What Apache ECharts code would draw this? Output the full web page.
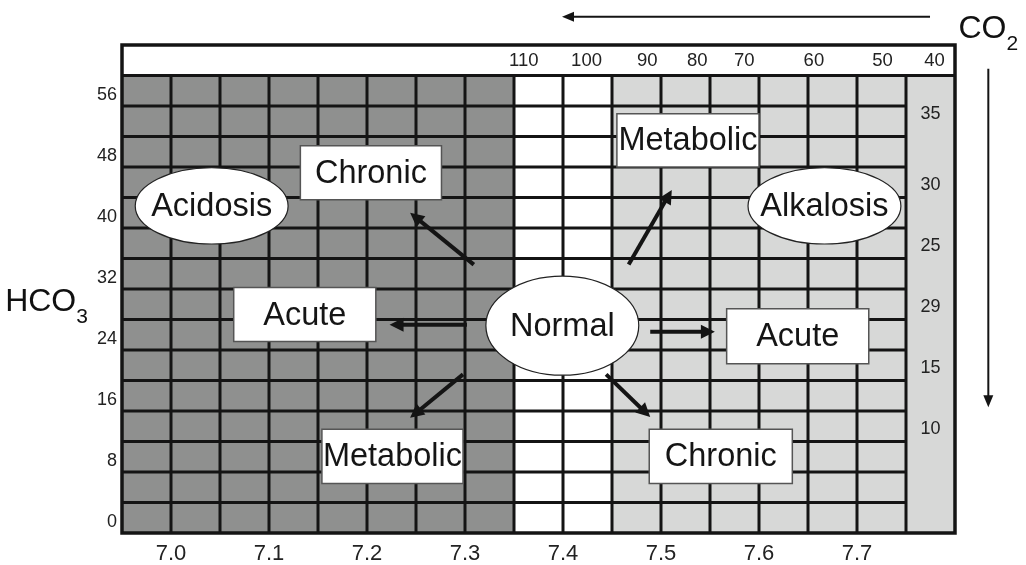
<!DOCTYPE html>
<html><head><meta charset="utf-8">
<script src="https://cdn.jsdelivr.net/npm/echarts@6/dist/echarts.min.js"></script>
<style>html,body{margin:0;padding:0;background:#fff}#c{width:1026px;height:565px}</style>
</head><body><div id="c"></div>
<script>
// ---- data (pH on x, HCO3 on y) ----
const phTicks = [7.0, 7.1, 7.2, 7.3, 7.4, 7.5, 7.6, 7.7];
const hco3Ticks = [0, 8, 16, 24, 32, 40, 48, 56];
const phGridLines = [7.0, 7.05, 7.1, 7.15, 7.2, 7.25, 7.3, 7.35, 7.4, 7.45, 7.5, 7.55, 7.6, 7.65, 7.7, 7.75];
const hco3GridLines = [2, 6, 10, 14, 18, 22, 26, 30, 34, 38, 42, 46, 50, 54];
const zoneNames = ['acid', 'normal', 'alkaline'];
const zoneFrom = [6.95, 7.35, 7.45];
const zoneTo = [7.35, 7.45, 7.80];
const co2TopLabels = ['110', '100', '90', '80', '70', '60', '50', '40'];
const co2TopPH = [7.360, 7.424, 7.486, 7.537, 7.585, 7.656, 7.726, 7.779];
const co2SideLabels = ['35', '30', '25', '29', '15', '10'];
const co2SideHCO3 = [52.9, 43.6, 35.6, 27.6, 19.6, 11.6];
const boxLabels = ['Chronic', 'Acute', 'Metabolic', 'Metabolic', 'Acute', 'Chronic'];
const boxPHFrom = [7.132, 7.064, 7.154, 7.455, 7.567, 7.488];
const boxPHTo = [7.276, 7.209, 7.298, 7.600, 7.712, 7.634];
const boxHCO3From = [41.7, 23.1, 4.5, 46.0, 20.2, 4.5];
const boxHCO3To = [48.8, 30.2, 11.6, 53.0, 27.4, 11.6];
const ellipseLabels = ['Acidosis', 'Normal', 'Alkalosis'];
const ellipsePH = [7.0415, 7.3993, 7.6668];
const ellipseHCO3 = [40.9, 25.2, 40.9];
const ellipsePHHalf = [0.078, 0.078, 0.078];
const ellipseHCO3Half = [5.0, 6.5, 5.0];
const arrowFrom = [[7.309, 33.2], [7.302, 25.3], [7.298, 18.8], [7.467, 33.2], [7.489, 24.4], [7.444, 18.8]];
const arrowTo = [[7.244, 40.0], [7.223, 25.3], [7.244, 13.1], [7.511, 43.0], [7.555, 24.4], [7.489, 13.2]];
const co2ArrowFrom = [[7.7745, 65.7], [7.834, 58.9]];
const co2ArrowTo = [[7.399, 65.7], [7.834, 14.5]];
const axisTitles = ['HCO|3', 'CO|2'];
const axisTitlePos = [[6.873, 28.6], [7.834, 64.4]];

// ---- styles ----
const FONT = "'Liberation Sans', Arial, Helvetica, sans-serif";
const LINE = '#141414';
const zoneFill = { acid: '#8f908f', normal: '#ffffff', alkaline: '#d7d8d7' };
const X0 = 6.95, X1 = 7.80, XIN = 7.75, Y0 = -2, Y1 = 62, YIN = 58;

function arrowShape(api, from, to, width, headLen, headHalf) {
  const p0 = api.coord(from), p1 = api.coord(to);
  const dx = p1[0] - p0[0], dy = p1[1] - p0[1];
  const len = Math.hypot(dx, dy);
  const ux = dx / len, uy = dy / len;
  const bx = p1[0] - ux * headLen, by = p1[1] - uy * headLen;
  return {
    type: 'group', children: [
      { type: 'line', shape: { x1: p0[0], y1: p0[1], x2: bx + ux * 2, y2: by + uy * 2 }, style: { stroke: LINE, lineWidth: width } },
      { type: 'polygon', shape: { points: [[p1[0], p1[1]], [bx - uy * headHalf, by + ux * headHalf], [bx + uy * headHalf, by - ux * headHalf]] }, style: { fill: LINE } }
    ]
  };
}

const chart = echarts.init(document.getElementById('c'), null, { renderer: 'canvas' });

const series = [
  { // zones
    type: 'custom', z: 1, data: zoneFrom.map((v, i) => [v, zoneTo[i]]),
    renderItem(params, api) {
      const i = params.dataIndex;
      const a = api.coord([zoneFrom[i], YIN]), b = api.coord([zoneTo[i], Y0]);
      return { type: 'rect', shape: { x: a[0], y: a[1], width: b[0] - a[0], height: b[1] - a[1] }, style: { fill: zoneFill[zoneNames[i]] } };
    }
  },
  { // vertical grid lines
    type: 'custom', z: 2, data: phGridLines.map(v => [v, 0]),
    renderItem(params, api) {
      const v = phGridLines[params.dataIndex];
      const a = api.coord([v, Y0]), b = api.coord([v, YIN]);
      return { type: 'line', shape: { x1: a[0], y1: a[1], x2: b[0], y2: b[1] }, style: { stroke: LINE, lineWidth: 3 } };
    }
  },
  { // horizontal grid lines
    type: 'custom', z: 2, data: hco3GridLines.map(v => [X0, v]),
    renderItem(params, api) {
      const v = hco3GridLines[params.dataIndex];
      const a = api.coord([X0, v]), b = api.coord([XIN, v]);
      return { type: 'line', shape: { x1: a[0], y1: a[1], x2: b[0], y2: b[1] }, style: { stroke: LINE, lineWidth: 3 } };
    }
  },
  { // frame
    type: 'custom', z: 3, data: [[X0, Y0]],
    renderItem(params, api) {
      const a = api.coord([X0, Y1]), b = api.coord([X1, Y0]), m = api.coord([X0, YIN]);
      return {
        type: 'group', children: [
          { type: 'line', shape: { x1: a[0], y1: m[1], x2: b[0], y2: m[1] }, style: { stroke: LINE, lineWidth: 3 } },
          { type: 'rect', shape: { x: a[0], y: a[1], width: b[0] - a[0], height: b[1] - a[1] }, style: { fill: 'none', stroke: LINE, lineWidth: 3.5 } }
        ]
      };
    }
  },
  { // arrows
    type: 'custom', z: 4, data: arrowFrom,
    renderItem(params, api) {
      const i = params.dataIndex;
      return arrowShape(api, arrowFrom[i], arrowTo[i], 4, 14, 7);
    }
  },
  { // boxes
    type: 'custom', z: 5, data: boxPHFrom.map((v, i) => [v, boxHCO3From[i]]),
    renderItem(params, api) {
      const i = params.dataIndex;
      const a = api.coord([boxPHFrom[i], boxHCO3To[i]]), b = api.coord([boxPHTo[i], boxHCO3From[i]]);
      return {
        type: 'group', children: [
          { type: 'rect', shape: { x: a[0], y: a[1], width: b[0] - a[0], height: b[1] - a[1] }, style: { fill: '#fff', stroke: '#555', lineWidth: 1.5 } },
          { type: 'text', style: { text: boxLabels[i], x: (a[0] + b[0]) / 2, y: (a[1] + b[1]) / 2 + 1, align: 'center', verticalAlign: 'middle', font: '32.5px ' + FONT, fill: '#151515' } }
        ]
      };
    }
  },
  { // ellipses
    type: 'custom', z: 5, data: ellipsePH.map((v, i) => [v, ellipseHCO3[i]]),
    renderItem(params, api) {
      const i = params.dataIndex;
      const c = api.coord([ellipsePH[i], ellipseHCO3[i]]);
      const e = api.coord([ellipsePH[i] + ellipsePHHalf[i], ellipseHCO3[i] + ellipseHCO3Half[i]]);
      return {
        type: 'group', children: [
          { type: 'ellipse', shape: { cx: c[0], cy: c[1], rx: Math.abs(e[0] - c[0]), ry: Math.abs(e[1] - c[1]) }, style: { fill: '#fff', stroke: '#222', lineWidth: 1.2 } },
          { type: 'text', style: { text: ellipseLabels[i], x: c[0], y: c[1] + 1, align: 'center', verticalAlign: 'middle', font: '32.5px ' + FONT, fill: '#151515' } }
        ]
      };
    }
  },
  { // CO2 labels along top band
    type: 'custom', z: 6, data: co2TopPH.map(v => [v, 60]),
    renderItem(params, api) {
      const i = params.dataIndex;
      const p = api.coord([co2TopPH[i], 60]);
      return { type: 'text', style: { text: co2TopLabels[i], x: p[0], y: p[1] + 1, align: 'center', verticalAlign: 'middle', font: '18.5px ' + FONT, fill: '#222' } };
    }
  },
  { // CO2 labels along right column
    type: 'custom', z: 6, data: co2SideHCO3.map(v => [7.775, v]),
    renderItem(params, api) {
      const i = params.dataIndex;
      const p = api.coord([7.775, co2SideHCO3[i]]);
      return { type: 'text', style: { text: co2SideLabels[i], x: p[0], y: p[1], align: 'center', verticalAlign: 'middle', font: '18px ' + FONT, fill: '#222' } };
    }
  },
  { // CO2 direction arrows
    type: 'custom', z: 6, data: co2ArrowFrom,
    renderItem(params, api) {
      const i = params.dataIndex;
      return arrowShape(api, co2ArrowFrom[i], co2ArrowTo[i], 2, 12, 5);
    }
  },
  { // axis titles with subscripts
    type: 'custom', z: 6, data: axisTitlePos,
    renderItem(params, api) {
      const i = params.dataIndex;
      const p = api.coord(axisTitlePos[i]);
      const parts = axisTitles[i].split('|');
      return {
        type: 'text', style: {
          text: '{m|' + parts[0] + '}{s|' + parts[1] + '}', x: p[0], y: p[1], align: 'center', verticalAlign: 'middle',
          rich: {
            m: { font: '32px ' + FONT, fill: '#111', verticalAlign: 'bottom', lineHeight: 36 },
            s: { font: '21px ' + FONT, fill: '#111', verticalAlign: 'bottom', lineHeight: 36, padding: [0, 0, -10, 0] }
          }
        }
      };
    }
  }
];

chart.setOption({
  animation: false,
  backgroundColor: '#fff',
  grid: { left: 122, right: 71, top: 45, bottom: 32 },
  xAxis: {
    type: 'value', min: X0, max: X1,
    axisLine: { show: false }, axisTick: { show: false }, splitLine: { show: false },
    axisLabel: { customValues: phTicks, formatter: v => v.toFixed(1), fontSize: 22, color: '#222', margin: 10, fontFamily: FONT }
  },
  yAxis: {
    type: 'value', min: Y0, max: Y1,
    axisLine: { show: false }, axisTick: { show: false }, splitLine: { show: false },
    axisLabel: { customValues: hco3Ticks, fontSize: 18, color: '#222', margin: 5, fontFamily: FONT, verticalAlign: 'top', lineHeight: 9 }
  },
  series: series
});
</script>
</body></html>
